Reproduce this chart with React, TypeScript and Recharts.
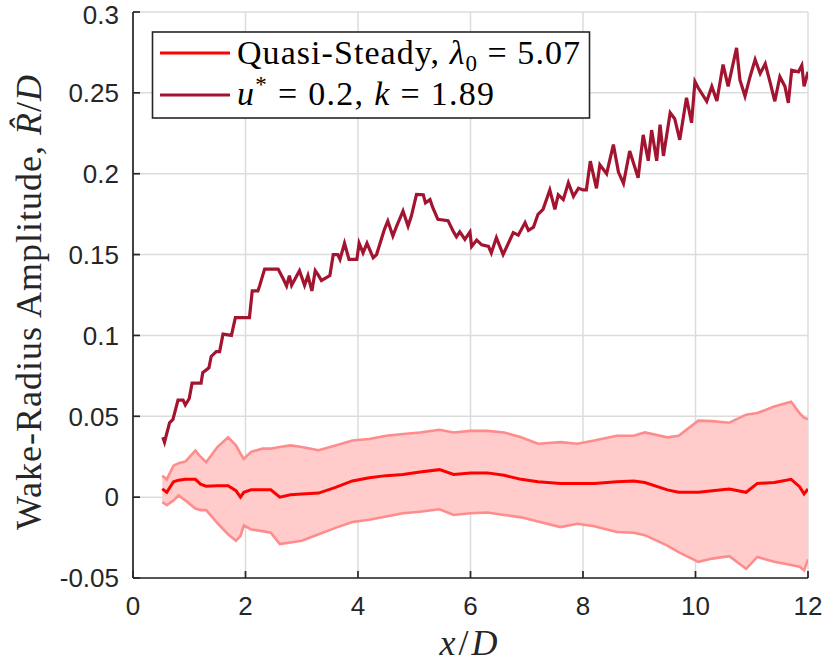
import { ComposedChart, Area, Line, XAxis, YAxis, CartesianGrid } from 'recharts'

// ─── Data ────────────────────────────────────────────────────────────────────

// quasi-steady band: mean ± spread
const bandX = [
  0.52, 0.6, 0.72, 0.81, 0.93, 1.11, 1.2, 1.3, 1.5, 1.69,
  1.83, 1.91, 1.97, 2.1, 2.3, 2.45, 2.61, 2.8, 3.0, 3.3,
  3.6, 3.9, 4.2, 4.5, 4.8, 5.1, 5.45, 5.7, 6.0, 6.3,
  6.6, 6.9, 7.2, 7.6, 7.9, 8.2, 8.6, 8.9, 9.1, 9.5,
  9.7, 10.05, 10.3, 10.6, 10.9, 11.1, 11.4, 11.7, 11.85, 11.93, 12.0,
]
const bandUpper = [
  0.0133, 0.011, 0.0195, 0.021, 0.022, 0.0288, 0.025, 0.0216, 0.031, 0.037,
  0.032, 0.027, 0.0236, 0.028, 0.030, 0.030, 0.031, 0.032, 0.031, 0.029,
  0.032, 0.035, 0.036, 0.038, 0.039, 0.040, 0.0417, 0.040, 0.041, 0.041,
  0.040, 0.037, 0.033, 0.034, 0.033, 0.035, 0.038, 0.038, 0.040, 0.037,
  0.038, 0.0473, 0.047, 0.046, 0.051, 0.052, 0.056, 0.059, 0.052, 0.049, 0.0483,
]
const bandMean = [
  0.0051, 0.003, 0.0095, 0.0105, 0.011, 0.011, 0.008, 0.0068, 0.007, 0.007,
  0.004, 0.0, 0.003, 0.0045, 0.0045, 0.0045, 0.0, 0.0015, 0.002, 0.0025,
  0.006, 0.010, 0.012, 0.0133, 0.014, 0.0155, 0.017, 0.014, 0.015, 0.015,
  0.0135, 0.011, 0.0095, 0.0085, 0.0085, 0.0085, 0.0095, 0.010, 0.009, 0.0045,
  0.003, 0.003, 0.004, 0.005, 0.003, 0.0085, 0.009, 0.011, 0.0065, 0.002, 0.005,
]
const bandLower = [
  -0.003, -0.005, -0.002, 0.001, -0.002, -0.007, -0.008, -0.008, -0.016, -0.023,
  -0.027, -0.024, -0.0175, -0.020, -0.021, -0.022, -0.029, -0.028, -0.027, -0.023,
  -0.019, -0.0154, -0.014, -0.012, -0.010, -0.009, -0.0075, -0.011, -0.010, -0.0095,
  -0.011, -0.0125, -0.015, -0.0185, -0.0165, -0.018, -0.0216, -0.022, -0.0235, -0.030,
  -0.034, -0.040, -0.038, -0.0365, -0.0443, -0.037, -0.040, -0.042, -0.043, -0.0453, -0.0385,
]

// u* = 0.2, k = 1.89
const wakeX = [
  0.53, 0.56, 0.65, 0.71, 0.80, 0.89, 0.93, 1.00, 1.05, 1.21,
  1.24, 1.35, 1.39, 1.48, 1.54, 1.60, 1.75, 1.82, 2.07, 2.12,
  2.22, 2.25, 2.34, 2.58, 2.67, 2.73, 2.78, 2.82, 2.96, 3.05,
  3.11, 3.18, 3.24, 3.30, 3.35, 3.50, 3.56, 3.64, 3.68, 3.76,
  3.84, 3.98, 4.02, 4.09, 4.16, 4.27, 4.33, 4.47, 4.53, 4.62,
  4.68, 4.80, 4.89, 4.95, 5.04, 5.16, 5.20, 5.28, 5.33, 5.42,
  5.60, 5.69, 5.75, 5.81, 5.90, 5.99, 6.02, 6.11, 6.20, 6.32,
  6.37, 6.46, 6.58, 6.70, 6.76, 6.85, 6.97, 7.03, 7.12, 7.20,
  7.29, 7.41, 7.50, 7.56, 7.65, 7.74, 7.83, 7.92, 8.00, 8.06,
  8.13, 8.18, 8.24, 8.30, 8.42, 8.54, 8.63, 8.72, 8.83, 8.98,
  9.07, 9.16, 9.22, 9.31, 9.37, 9.43, 9.55, 9.63, 9.72, 9.84,
  9.93, 9.99, 10.05, 10.20, 10.29, 10.38, 10.49, 10.58, 10.73, 10.79,
  10.88, 10.97, 11.06, 11.15, 11.24, 11.33, 11.41, 11.50, 11.59, 11.65,
  11.71, 11.83, 11.89, 11.93, 12.00,
]
const wakeY = [
  0.037, 0.034, 0.046, 0.048, 0.060, 0.060, 0.057, 0.061, 0.0705, 0.0705,
  0.077, 0.080, 0.087, 0.090, 0.090, 0.1008, 0.100, 0.111, 0.111, 0.1275,
  0.1275, 0.1306, 0.141, 0.141, 0.135, 0.1306, 0.137, 0.131, 0.140, 0.131,
  0.137, 0.1275, 0.140, 0.137, 0.134, 0.137, 0.150, 0.150, 0.147, 0.157,
  0.147, 0.147, 0.157, 0.151, 0.157, 0.148, 0.150, 0.1656, 0.1707, 0.1615,
  0.167, 0.1769, 0.1676, 0.174, 0.1872, 0.187, 0.182, 0.184, 0.179, 0.1718,
  0.171, 0.1646, 0.161, 0.164, 0.1594, 0.164, 0.155, 0.159, 0.156, 0.155,
  0.151, 0.1605, 0.150, 0.159, 0.1636, 0.162, 0.1698, 0.165, 0.167, 0.1749,
  0.178, 0.190, 0.178, 0.187, 0.184, 0.1944, 0.186, 0.191, 0.190, 0.190,
  0.2078, 0.200, 0.191, 0.2055, 0.200, 0.218, 0.201, 0.194, 0.214, 0.1975,
  0.224, 0.208, 0.227, 0.208, 0.2304, 0.211, 0.2377, 0.234, 0.221, 0.247,
  0.2315, 0.257, 0.253, 0.2448, 0.254, 0.245, 0.2675, 0.254, 0.2778, 0.258,
  0.248, 0.260, 0.2706, 0.262, 0.268, 0.256, 0.2448, 0.260, 0.254, 0.2438,
  0.264, 0.263, 0.267, 0.254, 0.263,
]

const xTicks = [0, 2, 4, 6, 8, 10, 12]
const yTicks = [-0.05, 0, 0.05, 0.1, 0.15, 0.2, 0.25, 0.3]

// ─── Styles ──────────────────────────────────────────────────────────────────

const AXIS_COLOR = '#262626'
const GRID_COLOR = '#DCDCDC'
const WAKE_COLOR = '#A2142F'
const MEAN_COLOR = '#FF0000'
const EDGE_COLOR = '#FF8C8C'
const FILL_COLOR = '#FFCBCB'
const SANS = '"Liberation Sans", Arial, sans-serif'
const SERIF = '"Liberation Serif", "DejaVu Serif", serif'

const bandRows = bandX.map((x, i) => ({
  x,
  lo: bandLower[i],
  hi: bandUpper[i],
  mean: bandMean[i],
  band: [bandLower[i], bandUpper[i]],
}))
const wakeRows = wakeX.map((x, i) => ({ x, wake: wakeY[i] }))

const fmtTick = (v: number) => String(+v.toFixed(2))

export default function App() {
  return (
    <div style={{ position: 'absolute', left: 0, top: 0, width: 830, height: 672, background: '#fff' }}>
      <ComposedChart
        width={830}
        height={672}
        data={bandRows}
        margin={{ top: 12, right: 22, bottom: 0, left: 0 }}
      >
        <CartesianGrid stroke={GRID_COLOR} strokeWidth={1.5} />
        <XAxis
          dataKey="x"
          type="number"
          domain={[0, 12]}
          ticks={xTicks}
          allowDataOverflow
          height={94}
          tickSize={-7}
          tickMargin={26}
          tick={{ fontSize: 26, fill: AXIS_COLOR, fontFamily: SANS }}
          axisLine={{ stroke: AXIS_COLOR, strokeWidth: 1.7 }}
          tickLine={{ stroke: AXIS_COLOR, strokeWidth: 1.7 }}
        />
        <YAxis
          type="number"
          domain={[-0.05, 0.3]}
          ticks={yTicks}
          allowDataOverflow
          width={133}
          tickSize={-7}
          tickMargin={21}
          tickFormatter={fmtTick}
          tick={{ fontSize: 26, fill: AXIS_COLOR, fontFamily: SANS }}
          axisLine={{ stroke: AXIS_COLOR, strokeWidth: 1.7 }}
          tickLine={{ stroke: AXIS_COLOR, strokeWidth: 1.7 }}
        />
        <Area dataKey="band" type="linear" fill={FILL_COLOR} fillOpacity={1} stroke="none" isAnimationActive={false} />
        <Line dataKey="hi" type="linear" stroke={EDGE_COLOR} strokeWidth={2.6} dot={false} isAnimationActive={false} />
        <Line dataKey="lo" type="linear" stroke={EDGE_COLOR} strokeWidth={2.6} dot={false} isAnimationActive={false} />
        <Line dataKey="mean" type="linear" stroke={MEAN_COLOR} strokeWidth={3} dot={false} isAnimationActive={false} />
        <Line data={wakeRows} dataKey="wake" type="linear" stroke={WAKE_COLOR} strokeWidth={3.2} dot={false} isAnimationActive={false} />
      </ComposedChart>

      {/* legend + LaTeX-style axis titles */}
      <svg width={830} height={672} style={{ position: 'absolute', left: 0, top: 0, pointerEvents: 'none' }}>
        <rect x={152.5} y={32} width={437} height={86} fill="#fff" stroke={AXIS_COLOR} strokeWidth={1.6} />
        <line x1={160} x2={230} y1={53} y2={53} stroke={MEAN_COLOR} strokeWidth={3} />
        <line x1={160} x2={230} y1={95} y2={95} stroke={WAKE_COLOR} strokeWidth={3} />
        <text x={237} y={63.5} fontSize={34} fontFamily={SERIF} fill="#000" letterSpacing={1.05} style={{ whiteSpace: 'pre' }}>
          <tspan>Quasi-Steady, </tspan>
          <tspan fontStyle="italic">λ</tspan>
          <tspan fontSize={23} dy={7}>0</tspan>
          <tspan dy={-7}> = 5.07</tspan>
        </text>
        <text x={237} y={104.5} fontSize={34} fontFamily={SERIF} fill="#000" letterSpacing={1.3} style={{ whiteSpace: 'pre' }}>
          <tspan fontStyle="italic">u</tspan>
          <tspan fontSize={23} dy={-13}>*</tspan>
          <tspan dy={13}> = 0.2, </tspan>
          <tspan fontStyle="italic">k</tspan>
          <tspan> = 1.89</tspan>
        </text>

        <text x={470} y={655} fontSize={36} fontFamily={SERIF} fill={AXIS_COLOR} textAnchor="middle" letterSpacing={3}>
          <tspan fontStyle="italic">x</tspan>
          <tspan>/</tspan>
          <tspan fontStyle="italic">D</tspan>
        </text>

        <text
          x={41}
          y={302}
          fontSize={36}
          fontFamily={SERIF}
          fill={AXIS_COLOR}
          textAnchor="middle"
          letterSpacing={1}
          transform="rotate(-90, 41, 302)"
          style={{ whiteSpace: 'pre' }}
        >
          <tspan>Wake-Radius Amplitude, </tspan>
          <tspan fontStyle="italic">{'R\u0302'}</tspan>
          <tspan>/</tspan>
          <tspan fontStyle="italic">D</tspan>
        </text>
      </svg>
    </div>
  )
}
